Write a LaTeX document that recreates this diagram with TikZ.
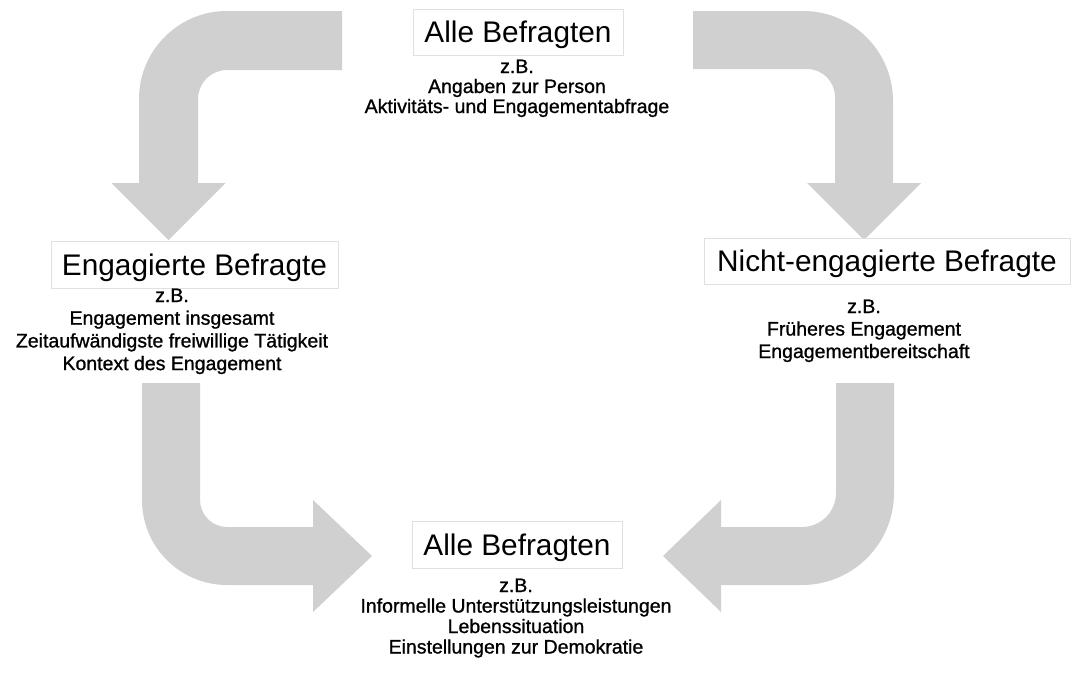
\documentclass[tikz,border=0pt]{standalone}
\usepackage{fontspec}
\setmainfont{Liberation Sans}
\newfontfamily\subfont[FakeBold=1.0]{Liberation Sans}
\definecolor{arrowgray}{RGB}{208,208,208}
\definecolor{boxline}{RGB}{224,224,224}
\newcommand\linesof[2]{\vtop{\baselineskip=#1\lineskiplimit=-10pt\halign{\hfil##\hfil\cr #2\crcr}}}
\tikzset{
  blockarrow/.style={fill=arrowgray, draw=none},
  titlebox/.style={draw=boxline, line width=1pt, fill=white, inner sep=0pt,
    font=\fontsize{29.8}{34}\selectfont, text height=21.3pt, text depth=0pt},
  subtext/.style={inner sep=0pt, anchor=base, font=\subfont\fontsize{19.5}{22}\selectfont}
}
\begin{document}
\begin{tikzpicture}[x=1pt,y=-1pt]
\useasboundingbox (0,0) rectangle (1072,675);
% block arrows
\fill[blockarrow] (342,11) -- (227,11) .. controls (178.4,11) and (139,50.4) .. (139,99)
  -- (139,183) -- (111.5,183) -- (168.5,240) -- (225.5,183) -- (198,183) -- (198,99)
  .. controls (198,83) and (211,70) .. (227,70) -- (342,70) -- cycle;
\fill[blockarrow] (693,11) -- (803,11) .. controls (852.7,11) and (893,51.3) .. (893,101)
  -- (893,183) -- (921,183) -- (864,240) -- (807,183) -- (835,183) -- (835,97)
  .. controls (835,81.5) and (822.5,69) .. (807,69) -- (693,69) -- cycle;
\fill[blockarrow] (142,383) -- (142,500) .. controls (142,546.9) and (180.1,585) .. (227,585)
  -- (313,585) -- (313,612) -- (372,556) -- (313,500) -- (313,527) -- (227,527)
  .. controls (212.1,527) and (200,514.9) .. (200,500) -- (200,383) -- cycle;
\fill[blockarrow] (894,383) -- (894,493) .. controls (894,543.8) and (852.8,585) .. (802,585)
  -- (721,585) -- (721,612) -- (663,556) -- (721,500) -- (721,527) -- (802,527)
  .. controls (820.8,527) and (836,511.8) .. (836,493) -- (836,383) -- cycle;
% title boxes
\node[titlebox, minimum width=210pt, minimum height=46pt] (ttitle) at (518,32) {Alle Befragten};
\node[titlebox, minimum width=287pt, minimum height=47pt] (ltitle) at (194.5,264.5) {Engagierte Befragte};
\node[titlebox, minimum width=366pt, minimum height=46pt] (rtitle) at (887,261) {Nicht-engagierte Befragte};
\node[titlebox, minimum width=210pt, minimum height=47pt] (btitle) at (517,545) {Alle Befragten};
% sub texts
\node[subtext] (ttext) at (517,73) {\linesof{20pt}{z.B.\cr Angaben zur Person\cr Aktivitäts- und Engagementabfrage}};
\node[subtext] (ltext) at (172,302) {\linesof{22.7pt}{z.B.\cr Engagement insgesamt\cr Zeitaufwändigste freiwillige Tätigkeit\cr Kontext des Engagement}};
\node[subtext] (rtext) at (864,313) {\linesof{22.5pt}{z.B.\cr Früheres Engagement\cr Engagementbereitschaft}};
\node[subtext] (btext) at (516,592) {\linesof{20.5pt}{z.B.\cr Informelle Unterstützungsleistungen\cr Lebenssituation\cr Einstellungen zur Demokratie}};
\end{tikzpicture}
\end{document}
